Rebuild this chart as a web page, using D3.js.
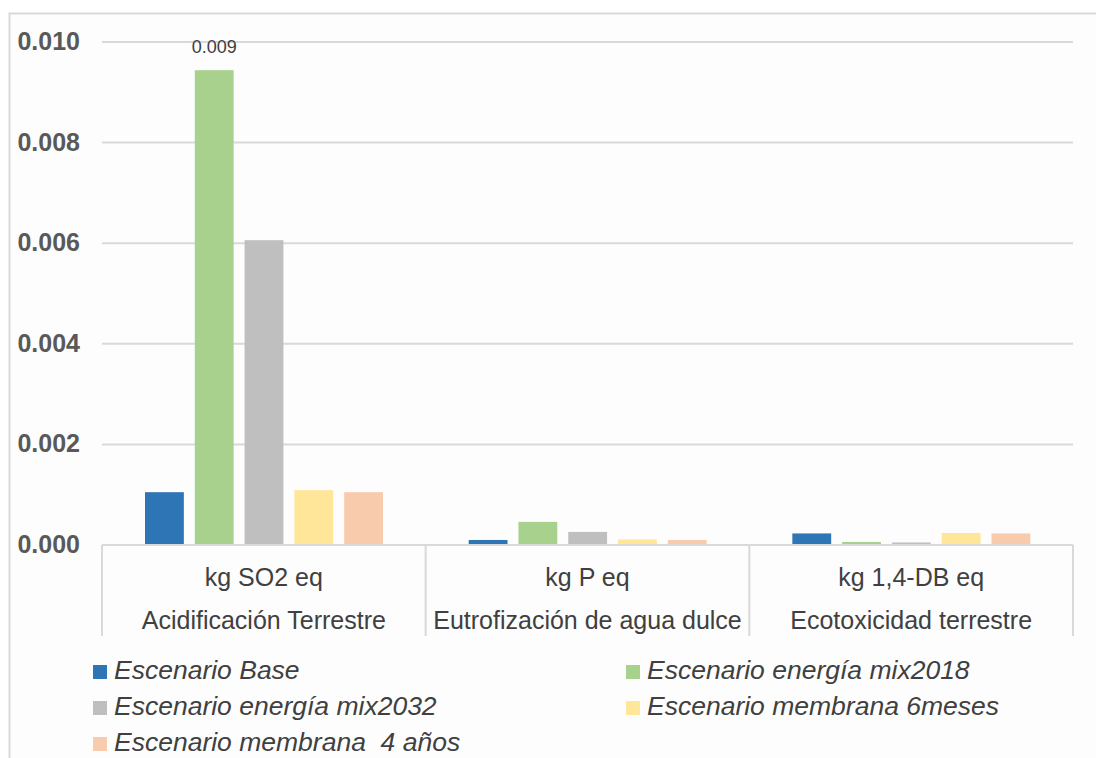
<!DOCTYPE html>
<html>
<head>
<meta charset="utf-8">
<script src="https://cdn.jsdelivr.net/npm/d3@7"></script>
<style>
  body { margin: 0; background: #ffffff; }
  svg { display: block; font-family: "Liberation Sans", Arial, sans-serif; }
</style>
</head>
<body>
<div id="chart"></div>
<script>
(function() {
    var width = 1096;
    var height = 758;

    // data
    var units = ["kg SO2 eq", "kg P eq", "kg 1,4-DB eq"];
    var categories = ["Acidificación Terrestre", "Eutrofización de agua dulce", "Ecotoxicidad terrestre"];
    var seriesNames = ["Escenario Base", "Escenario energía mix2018", "Escenario energía mix2032",
                       "Escenario membrana 6meses", "Escenario membrana  4 años"];
    var colors = ["#2e75b6", "#a9d18e", "#bfbfbf", "#ffe699", "#f8cbad"];
    var base     = [0.00105, 0.00010, 0.00023];
    var mix2018  = [0.00944, 0.00046, 0.00006];
    var mix2032  = [0.00606, 0.00026, 0.00005];
    var mem6     = [0.00109, 0.00011, 0.00024];
    var mem4     = [0.00105, 0.00010, 0.00023];
    var yTicks = [0, 0.002, 0.004, 0.006, 0.008, 0.010];

    var series = [base, mix2018, mix2032, mem6, mem4];

    var svg = d3.select("#chart")
        .append("svg")
        .attr("width", width)
        .attr("height", height);

    // chart area frame
    svg.append("rect")
        .attr("x", 9.5).attr("y", 13.5)
        .attr("width", 1200).attr("height", 800)
        .attr("fill", "#fdfdfd")
        .attr("stroke", "#d9d9d9")
        .attr("stroke-width", 2);

    var x0 = d3.scaleBand()
        .domain(categories)
        .range([102, 1073])
        .paddingInner(0)
        .paddingOuter(0);

    var x1 = d3.scaleBand()
        .domain(d3.range(series.length))
        .range([43, 281])
        .paddingInner(0.22);

    var y = d3.scaleLinear()
        .domain([0, 0.010])
        .range([545, 42]);

    // gridlines
    svg.append("g")
        .selectAll("line")
        .data(yTicks.slice(1))
        .enter()
        .append("line")
        .attr("x1", 102).attr("x2", 1073)
        .attr("y1", function(d) { return y(d); })
        .attr("y2", function(d) { return y(d); })
        .attr("stroke", "#d9d9d9")
        .attr("stroke-width", 2);

    // y labels
    svg.append("g")
        .selectAll("text")
        .data(yTicks)
        .enter()
        .append("text")
        .attr("x", 80)
        .attr("y", function(d) { return y(d) + 8; })
        .attr("text-anchor", "end")
        .attr("font-size", 25)
        .attr("font-weight", "bold")
        .attr("fill", "#595959")
        .text(function(d) { return d3.format(".3f")(d); });

    // bars
    var groups = svg.append("g")
        .selectAll("g")
        .data(categories)
        .enter()
        .append("g")
        .attr("transform", function(d) { return "translate(" + x0(d) + ",0)"; });

    groups.selectAll("rect")
        .data(function(d, i) { return series.map(function(s, j) { return { s: j, v: s[i] }; }); })
        .enter()
        .append("rect")
        .attr("x", function(d) { return x1(d.s); })
        .attr("width", x1.bandwidth())
        .attr("y", function(d) { return y(d.v); })
        .attr("height", function(d) { return y(0) - y(d.v); })
        .attr("fill", function(d) { return colors[d.s]; });

    // data label on the tallest bar
    svg.append("text")
        .attr("x", x0(categories[0]) + x1(1) + x1.bandwidth() / 2)
        .attr("y", y(mix2018[0]) - 17)
        .attr("text-anchor", "middle")
        .attr("font-size", 18)
        .attr("fill", "#404040")
        .text(d3.format(".3f")(mix2018[0]));

    // category axis
    var axis = svg.append("g").attr("stroke", "#d9d9d9").attr("stroke-width", 2);
    axis.append("line")
        .attr("x1", 102).attr("x2", 1073)
        .attr("y1", y(0)).attr("y2", y(0));
    axis.selectAll(".sep")
        .data(categories.concat(["end"]))
        .enter()
        .append("line")
        .attr("x1", function(d, i) { return 102 + i * x0.bandwidth(); })
        .attr("x2", function(d, i) { return 102 + i * x0.bandwidth(); })
        .attr("y1", y(0)).attr("y2", 636);

    var labels = svg.append("g")
        .attr("font-size", 25)
        .attr("fill", "#404040")
        .attr("text-anchor", "middle");
    labels.selectAll(".unit")
        .data(units)
        .enter()
        .append("text")
        .attr("x", function(d, i) { return x0(categories[i]) + x0.bandwidth() / 2; })
        .attr("y", 586)
        .text(function(d) { return d; });
    labels.selectAll(".cat")
        .data(categories)
        .enter()
        .append("text")
        .attr("x", function(d) { return x0(d) + x0.bandwidth() / 2; })
        .attr("y", 629)
        .text(function(d) { return d; });

    // legend
    var legend = svg.append("g")
        .selectAll("g")
        .data(seriesNames)
        .enter()
        .append("g")
        .attr("transform", function(d, i) {
            return "translate(" + (i % 2 === 0 ? 93 : 626) + "," + (665 + Math.floor(i / 2) * 36) + ")";
        });
    legend.append("rect")
        .attr("width", 14).attr("height", 14)
        .attr("fill", function(d, i) { return colors[i]; });
    legend.append("text")
        .attr("x", 21)
        .attr("y", 14)
        .attr("font-size", 26.5)
        .attr("font-style", "italic")
        .attr("fill", "#404040")
        .attr("xml:space", "preserve")
        .style("white-space", "pre")
        .text(function(d) { return d; });
})();
</script>
</body>
</html>
